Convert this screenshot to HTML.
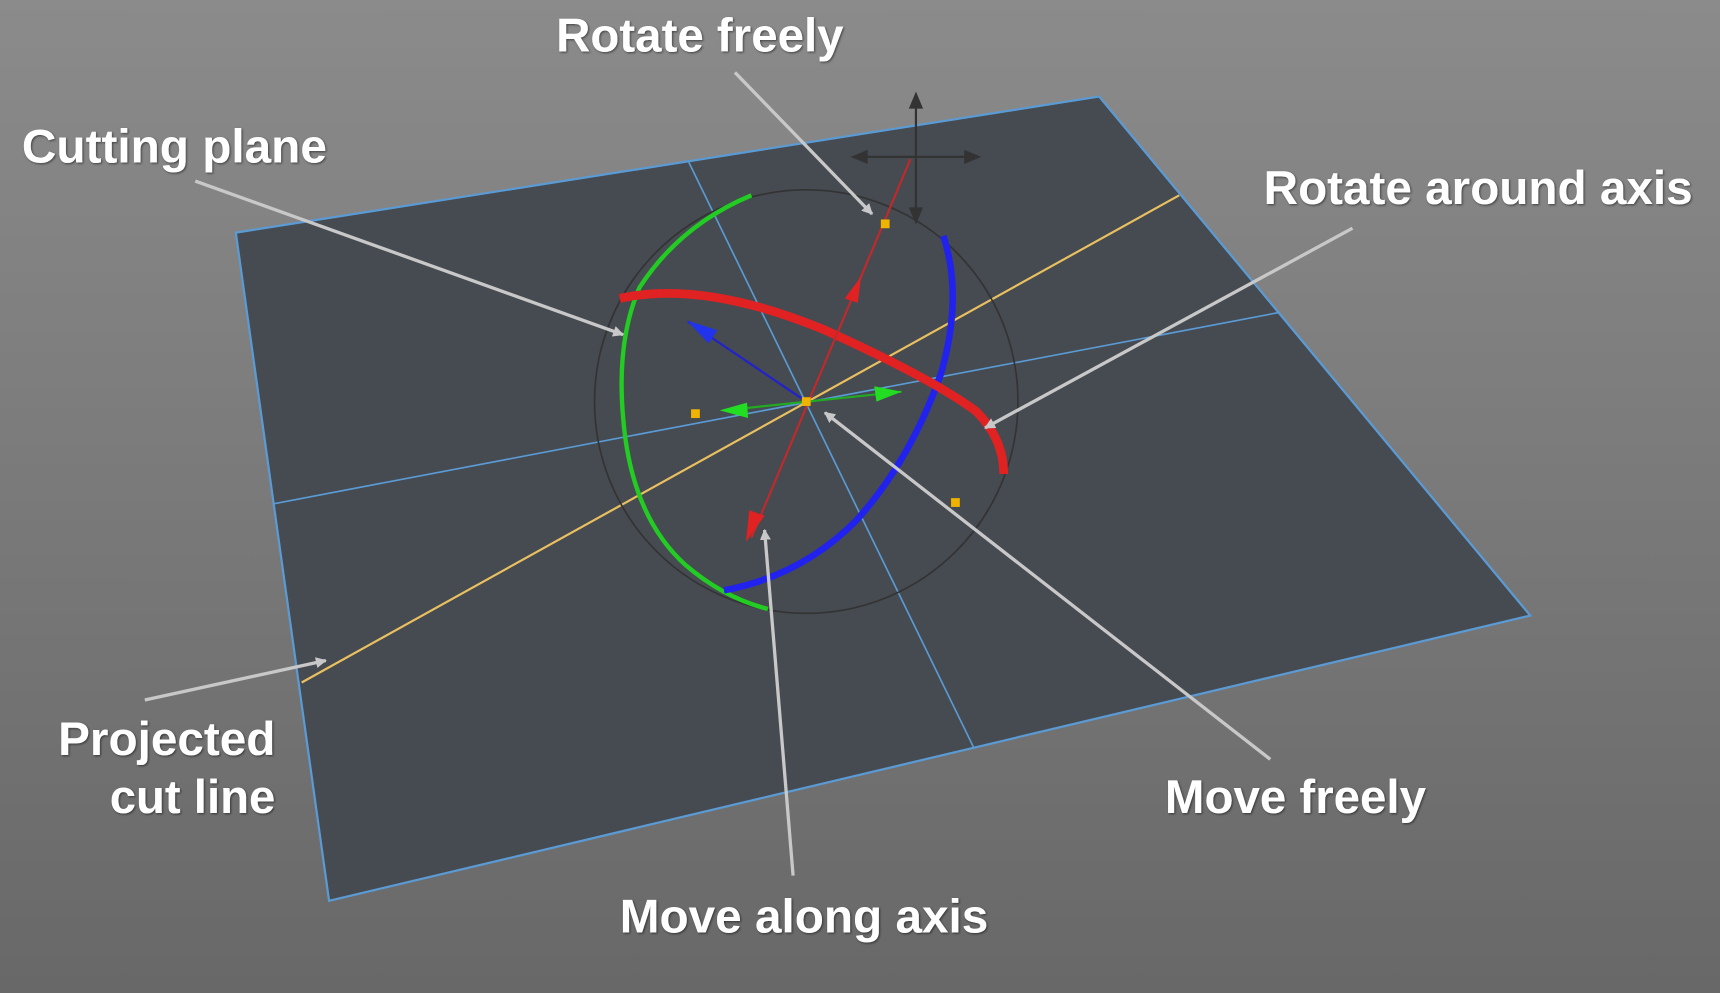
<!DOCTYPE html>
<html><head><meta charset="utf-8">
<style>
html,body{margin:0;padding:0;width:1720px;height:993px;overflow:hidden}
svg{display:block}
text{font-family:"Liberation Sans",sans-serif;font-weight:bold;font-size:43px;fill:#fff}
</style></head>
<body>
<svg width="1720" height="993" viewBox="0 0 1568 905" preserveAspectRatio="none">
<defs>
<linearGradient id="bg" x1="0" y1="0" x2="0" y2="1">
<stop offset="0" stop-color="#8b8b8b"/><stop offset="1" stop-color="#686868"/></linearGradient>
<marker id="ga" markerWidth="10" markerHeight="10" refX="9" refY="5" orient="auto" markerUnits="userSpaceOnUse">
<path d="M0,0 L10,5 L0,10 z" fill="#c8c8c8"/></marker>
<filter id="sh"><feDropShadow dx="1" dy="1" stdDeviation="1" flood-color="#000" flood-opacity="0.5"/></filter>
</defs>
<rect width="1568" height="905" fill="url(#bg)"/>
<polygon points="215,212 1002,88 1395,561 300,821" fill="#464a51" stroke="#5b9bd5" stroke-width="2"/>
<line x1="628" y1="148" x2="888" y2="682" stroke="#5b9bd5" stroke-width="1.5"/>
<line x1="250" y1="459" x2="1165" y2="285" stroke="#5b9bd5" stroke-width="1.5"/>
<line x1="275" y1="622" x2="1075" y2="178" stroke="#e8c060" stroke-width="2"/>
<ellipse cx="735" cy="366" rx="193" ry="193" fill="none" stroke="#333" stroke-width="1.5"/>
<path d="M685,178 Q620,205 583,262 Q562,310 568,380 Q575,470 625,515 Q660,545 700,555" fill="none" stroke="#22cc22" stroke-width="4"/>
<path d="M860,215 Q878,270 858,340 Q830,420 780,475 Q730,525 660,538" fill="none" stroke="#2222ee" stroke-width="6"/>
<path d="M565,272 Q640,255 750,300 Q850,345 890,375 Q915,400 915,432" fill="none" stroke="#e02222" stroke-width="8"/>
<line x1="685" y1="490" x2="830" y2="145" stroke="#c02a2a" stroke-width="2"/>
<polygon points="785,252 770,272 782,276" fill="#e02222"/>
<polygon points="680,494 683,465 697,470" fill="#e02222"/>
<line x1="735" y1="366" x2="627" y2="293" stroke="#2222cc" stroke-width="2"/>
<polygon points="626,292 654,301 646,313" fill="#2233ee"/>
<line x1="660" y1="374" x2="822" y2="357" stroke="#22aa22" stroke-width="2"/>
<polygon points="822,357 797,352 799,366" fill="#22dd22"/>
<polygon points="656,374 681,367 682,381" fill="#22dd22"/>
<g stroke="#333" stroke-width="2" fill="#333">
<line x1="780" y1="143" x2="890" y2="143"/><line x1="835" y1="88" x2="835" y2="200"/>
<polygon points="778,143 790,138 790,148"/><polygon points="892,143 880,138 880,148"/>
<polygon points="835,86 830,98 840,98"/><polygon points="835,202 830,190 840,190"/>
</g>
<rect x="803" y="200" width="8" height="8" fill="#f0b400"/>
<rect x="630" y="373" width="8" height="8" fill="#f0b400"/>
<rect x="867" y="454" width="8" height="8" fill="#f0b400"/>
<rect x="731" y="362" width="8" height="8" fill="#f0b400"/>
<g stroke="#c8c8c8" stroke-width="3" marker-end="url(#ga)">
<line x1="670" y1="66" x2="795" y2="195"/>
<line x1="178" y1="165" x2="568" y2="305"/>
<line x1="1233" y1="208" x2="898" y2="390"/>
<line x1="132" y1="638" x2="297" y2="602"/>
<line x1="1158" y1="692" x2="752" y2="376"/>
<line x1="723" y1="798" x2="697" y2="483"/>
</g>
<g filter="url(#sh)">
<text x="507" y="47" textLength="262" lengthAdjust="spacingAndGlyphs">Rotate freely</text>
<text x="20" y="148" textLength="278" lengthAdjust="spacingAndGlyphs">Cutting plane</text>
<text x="1152" y="186" textLength="391" lengthAdjust="spacingAndGlyphs">Rotate around axis</text>
<text x="53" y="688" textLength="198" lengthAdjust="spacingAndGlyphs">Projected</text>
<text x="100" y="741" textLength="151" lengthAdjust="spacingAndGlyphs">cut line</text>
<text x="1062" y="741" textLength="238" lengthAdjust="spacingAndGlyphs">Move freely</text>
<text x="565" y="850" textLength="336" lengthAdjust="spacingAndGlyphs">Move along axis</text>
</g>
</svg>
</body></html>
